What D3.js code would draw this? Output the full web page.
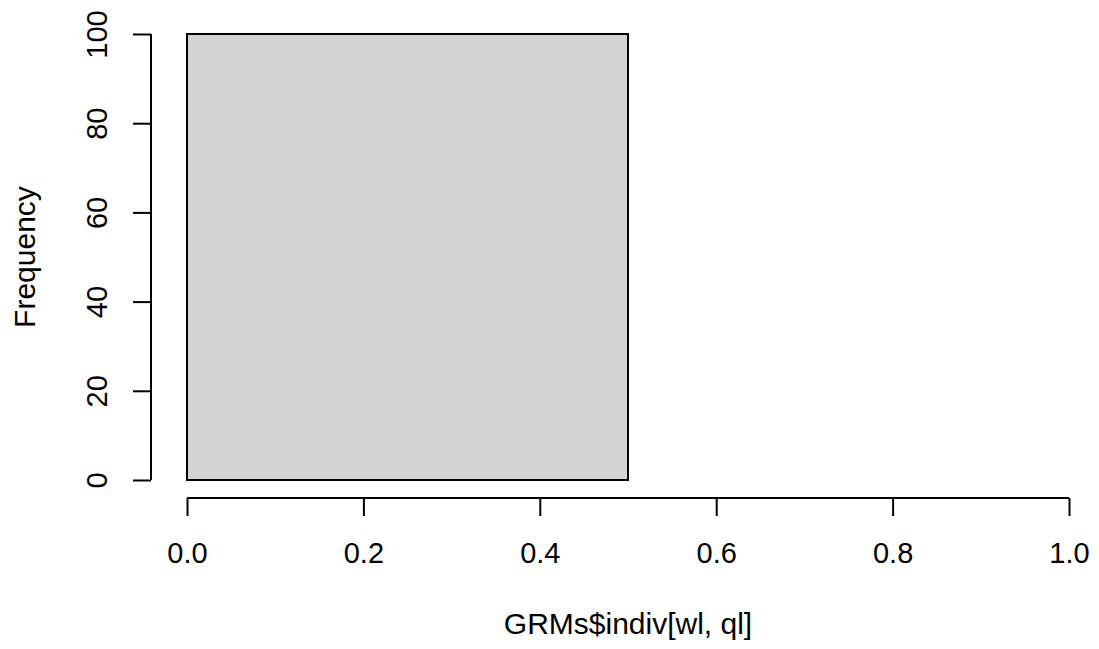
<!DOCTYPE html>
<html>
<head>
<meta charset="utf-8">
<script src="https://cdn.jsdelivr.net/npm/d3@7"></script>
<style>
  body { margin: 0; background: #fff; }
  svg text { font-family: "Liberation Sans", Arial, sans-serif; fill: #000; }
</style>
</head>
<body>
<div id="viz"></div>
<script>
// histogram of GRMs$indiv[wl, ql] -- one bin holds everything
var binStart = [0.0],
    binEnd = [0.5],
    binCount = [100];

var xTicks = [0.0, 0.2, 0.4, 0.6, 0.8, 1.0],
    yTicks = [0, 20, 40, 60, 80, 100];

var xLabel = "GRMs$indiv[wl, ql]",
    yLabel = "Frequency";

var width = 1099,
    height = 649,
    tickFont = 29,
    titleFont = 30,
    lw = 2;

var bins = binStart.map(function(d, i) {
    return {x0: d, x1: binEnd[i], n: binCount[i]};
});

var svg = d3.select("div#viz")
    .append("svg")
    .attr("width", width)
    .attr("height", height);

var x = d3.scaleLinear().domain([0, 1]).range([187, 1069]);
var y = d3.scaleLinear().domain([0, 100]).range([480, 34]);

// bars
svg.append("g")
    .selectAll("rect")
    .data(bins)
    .enter().append("rect")
    .attr("x", function(d) { return x(d.x0); })
    .attr("y", function(d) { return y(d.n); })
    .attr("width", function(d) { return x(d.x1) - x(d.x0); })
    .attr("height", function(d) { return y(0) - y(d.n); })
    .attr("fill", "#d3d3d3")
    .attr("stroke", "#000")
    .attr("stroke-width", lw);

// x axis (R style: line only spans the ticks)
var xAxis = d3.axisBottom(x)
    .tickValues(xTicks)
    .tickFormat(d3.format(".1f"))
    .tickSize(18)
    .tickSizeOuter(0);

var gx = svg.append("g")
    .attr("transform", "translate(0,498)")
    .call(xAxis);
gx.select(".domain").remove();
gx.append("line")
    .attr("x1", x(xTicks[0])).attr("x2", x(xTicks[xTicks.length - 1]))
    .attr("stroke", "#000").attr("stroke-width", lw);
gx.selectAll(".tick line").attr("stroke", "#000").attr("stroke-width", lw);
gx.selectAll(".tick text")
    .attr("y", null).attr("dy", null)
    .attr("transform", "translate(0,65)")
    .style("font-size", tickFont + "px")
    .style("font-family", "Liberation Sans, Arial, sans-serif");

// y axis, labels rotated parallel to the axis
var yAxis = d3.axisLeft(y)
    .tickValues(yTicks)
    .tickSize(18)
    .tickSizeOuter(0);

var gy = svg.append("g")
    .attr("transform", "translate(151,0)")
    .call(yAxis);
gy.select(".domain").remove();
gy.append("line")
    .attr("y1", y(yTicks[0])).attr("y2", y(yTicks[yTicks.length - 1]))
    .attr("stroke", "#000").attr("stroke-width", lw);
gy.selectAll(".tick line").attr("stroke", "#000").attr("stroke-width", lw);
gy.selectAll(".tick text")
    .attr("x", null).attr("dy", null)
    .attr("text-anchor", "middle")
    .attr("transform", "translate(-44,0) rotate(-90)")
    .style("font-size", tickFont + "px")
    .style("font-family", "Liberation Sans, Arial, sans-serif");

// axis titles
svg.append("text")
    .attr("x", x(0.5))
    .attr("y", 634)
    .attr("text-anchor", "middle")
    .style("font-size", titleFont + "px")
    .text(xLabel);

svg.append("text")
    .attr("transform", "translate(35," + y(50) + ") rotate(-90)")
    .attr("text-anchor", "middle")
    .style("font-size", titleFont + "px")
    .text(yLabel);
</script>
</body>
</html>
